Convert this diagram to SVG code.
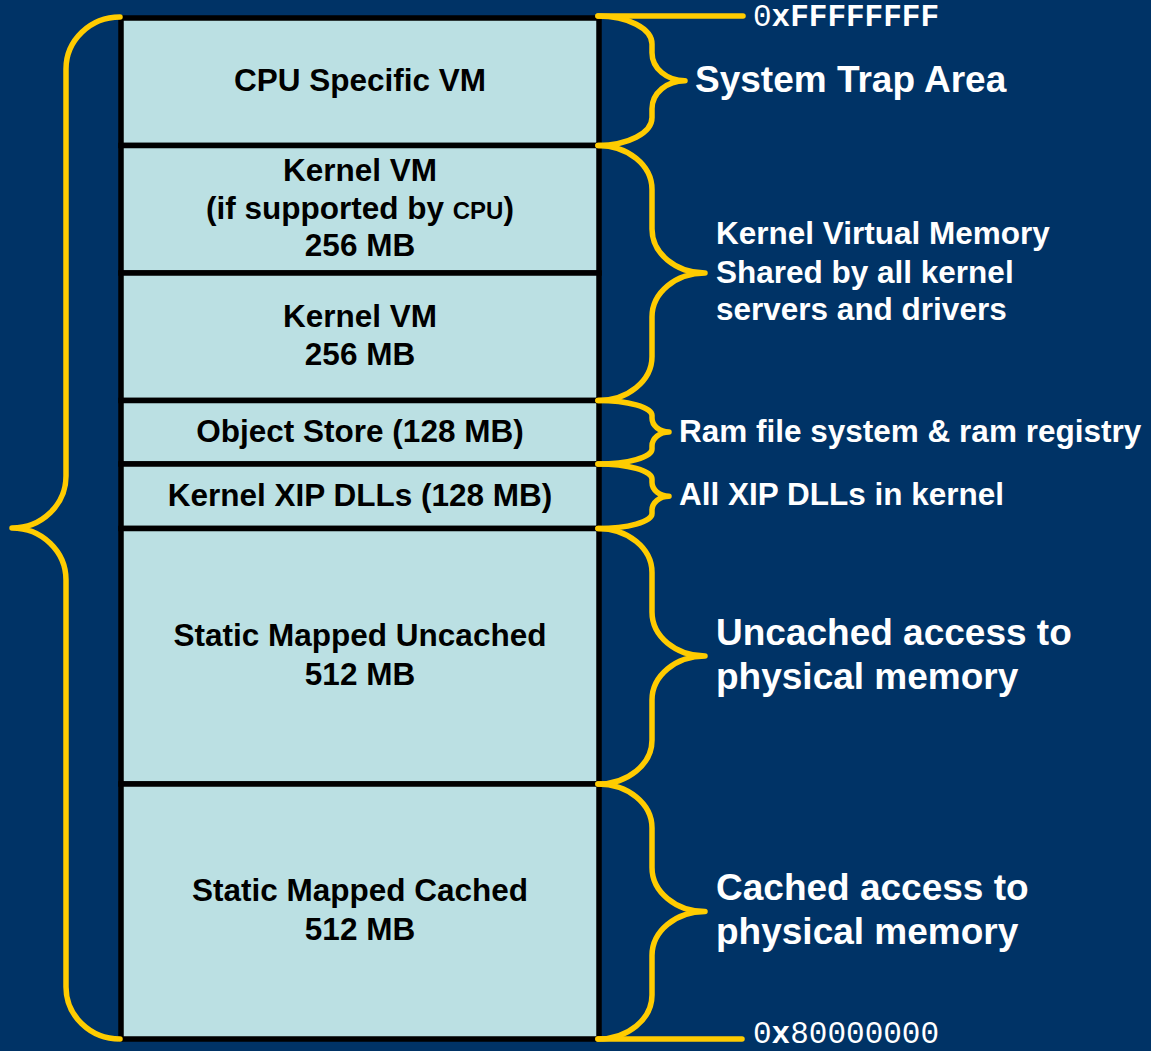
<svg xmlns="http://www.w3.org/2000/svg" width="1151" height="1051" viewBox="0 0 1151 1051">
  <style>
    .cell { fill: #BBE0E3; stroke: #000000; stroke-width: 5.5; }
    .cellText { font-family: "Liberation Sans", Arial, sans-serif; font-weight: bold; font-size: 31.5px; fill: #000000; text-anchor: middle; }
    .small { font-size: 24px; }
    .label { font-family: "Liberation Sans", Arial, sans-serif; font-weight: bold; font-size: 31.5px; fill: #FFFFFF; }
    .big { font-size: 37px; }
    .addr { font-family: "Liberation Mono", "Courier New", monospace; font-size: 31px; fill: #FFFFFF; }
    .brace { fill: none; stroke: #FFCC00; stroke-width: 5.5; stroke-linecap: round; stroke-linejoin: round; }
  </style>

  <!-- background -->
  <rect x="0" y="0" width="1151" height="1051" fill="#003366"/>

  <!-- memory map cells, top (0xFFFFFFFF) to bottom (0x80000000) -->
  <g id="cpu-specific-vm">
    <rect class="cell" x="121" y="18" width="478" height="127.5"/>
    <text class="cellText" x="360" y="91">CPU Specific VM</text>
  </g>
  <g id="kernel-vm-cpu">
    <rect class="cell" x="121" y="145.5" width="478" height="127.5"/>
    <text class="cellText" x="360" y="181">Kernel VM</text>
    <text class="cellText" x="360" y="219">(if supported by <tspan class="small">CPU</tspan>)</text>
    <text class="cellText" x="360" y="256">256 MB</text>
  </g>
  <g id="kernel-vm">
    <rect class="cell" x="121" y="273" width="478" height="127.5"/>
    <text class="cellText" x="360" y="327">Kernel VM</text>
    <text class="cellText" x="360" y="365">256 MB</text>
  </g>
  <g id="object-store">
    <rect class="cell" x="121" y="400.5" width="478" height="63.5"/>
    <text class="cellText" x="360" y="442">Object Store (128 MB)</text>
  </g>
  <g id="kernel-xip-dlls">
    <rect class="cell" x="121" y="464" width="478" height="64.5"/>
    <text class="cellText" x="360" y="506">Kernel XIP DLLs (128 MB)</text>
  </g>
  <g id="static-uncached">
    <rect class="cell" x="121" y="528.5" width="478" height="255.5"/>
    <text class="cellText" x="360" y="646">Static Mapped Uncached</text>
    <text class="cellText" x="360" y="685">512 MB</text>
  </g>
  <g id="static-cached">
    <rect class="cell" x="121" y="784" width="478" height="255"/>
    <text class="cellText" x="360" y="901">Static Mapped Cached</text>
    <text class="cellText" x="360" y="940">512 MB</text>
  </g>

  <!-- braces and address markers -->
  <g id="connectors">
    <path class="brace" d="M120,17 A54,52 0 0 0 66,69 L66,476 A54,52 0 0 1 12,528 A54,52 0 0 1 66,580 L66,987 A54,52 0 0 0 120,1039"/>
    <path class="brace" d="M598,16 H743"/>
    <path class="brace" d="M598,1039 H742"/>
    <!-- system trap area -->
    <path class="brace" d="M598,16 A54,28 0 0 1 652,44 L652,52.7 A33,28 0 0 0 685,80.7 A33,28 0 0 0 652,108.7 L652,117.5 A54,28 0 0 1 598,145.5"/>
    <!-- kernel virtual memory -->
    <path class="brace" d="M598,145.5 A54,44 0 0 1 652,189.5 L652,229 A53,44 0 0 0 705,273 A53,44 0 0 0 652,317 L652,356.5 A54,44 0 0 1 598,400.5"/>
    <!-- object store -->
    <path class="brace" d="M598,400.5 A54,15 0 0 1 652,415.5 L652,418 A17,14 0 0 0 669,432 A17,14 0 0 0 652,446 L652,449 A54,15 0 0 1 598,464"/>
    <!-- kernel XIP DLLs -->
    <path class="brace" d="M598,464 A54,15 0 0 1 652,479 L652,482.2 A17,14 0 0 0 669,496.2 A17,14 0 0 0 652,510.2 L652,513.5 A54,15 0 0 1 598,528.5"/>
    <!-- uncached -->
    <path class="brace" d="M598,528.5 A54,44 0 0 1 652,572.5 L652,612 A53,44 0 0 0 705,656 A53,44 0 0 0 652,700 L652,740 A54,44 0 0 1 598,784"/>
    <!-- cached -->
    <path class="brace" d="M598,784 A54,44 0 0 1 652,828 L652,867.5 A53,44 0 0 0 705,911.5 A53,44 0 0 0 652,955.5 L652,995 A54,44 0 0 1 598,1039"/>
  </g>

  <!-- region descriptions -->
  <g id="addr-top">
    <text class="addr" x="753" y="26">0<tspan font-weight="bold">xFFFFFFFF</tspan></text>
  </g>
  <g id="label-system-trap">
    <text class="label big" x="695" y="92">System Trap Area</text>
  </g>
  <g id="label-kernel-vm">
    <text class="label" x="716" y="244">Kernel Virtual Memory</text>
    <text class="label" x="716" y="283">Shared by all kernel</text>
    <text class="label" x="716" y="320">servers and drivers</text>
  </g>
  <g id="label-object-store">
    <text class="label" x="679" y="442">Ram file system &amp; ram registry</text>
  </g>
  <g id="label-xip">
    <text class="label" x="679" y="505">All XIP DLLs in kernel</text>
  </g>
  <g id="label-uncached">
    <text class="label big" x="716" y="645">Uncached access to</text>
    <text class="label big" x="716" y="689">physical memory</text>
  </g>
  <g id="label-cached">
    <text class="label big" x="716" y="900">Cached access to</text>
    <text class="label big" x="716" y="944">physical memory</text>
  </g>
  <g id="addr-bottom">
    <text class="addr" x="753" y="1043">0<tspan font-weight="bold">x</tspan>80000000</text>
  </g>
</svg>
